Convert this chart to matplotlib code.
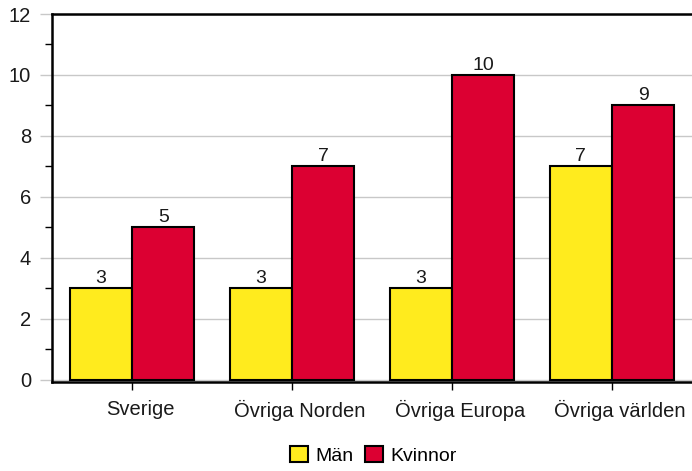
import matplotlib

matplotlib.use("Agg")
import matplotlib.pyplot as plt
import matplotlib.transforms as mtransforms
import numpy as np
from matplotlib.patches import Patch

categories = ["Sverige", "Övriga Norden", "Övriga Europa", "Övriga världen"]
man = [3, 3, 3, 7]
kvinnor = [5, 7, 10, 9]
series_names = ["Män", "Kvinnor"]

YELLOW = "#FFEB1E"
RED = "#DC0032"

plt.rcParams["font.family"] = ["Liberation Sans", "DejaVu Sans"]

fig = plt.figure(figsize=(6.92, 4.71), dpi=100)
ax = fig.add_axes([52 / 692, 89 / 471, 1 - 52 / 692, 368 / 471])

x = np.arange(len(categories))
w = 0.39
b1 = ax.bar(x - w / 2, man, w, color=YELLOW, edgecolor="black", linewidth=1.5, zorder=3)
b2 = ax.bar(x + w / 2, kvinnor, w, color=RED, edgecolor="black", linewidth=1.5, zorder=3)

for bars, vals in [(b1, man), (b2, kvinnor)]:
    for rect, v in zip(bars, vals):
        ax.text(rect.get_x() + rect.get_width() / 2, v + 0.03, str(v),
                ha="center", va="bottom", fontsize=14, color="#1a1a1a")

ax.set_xlim(-0.5, 3.5)
ax.set_ylim(-0.08, 12)
ax.set_yticks(range(0, 13, 2))
ax.set_yticks(range(1, 12, 2), minor=True)
ax.set_xticks(x)
ax.set_xticklabels(categories, fontsize=14.5)
ax.tick_params(axis="y", which="major", length=9, color="#c8c8c8", width=1,
               labelsize=14.5, pad=6, labelcolor="#1a1a1a")
ax.tick_params(axis="y", which="minor", length=5, color="black", width=1)
ax.tick_params(axis="x", length=6, color="black", width=1, pad=7, labelcolor="#1a1a1a")

# category labels sit a little right of their ticks in the original
shift = mtransforms.ScaledTranslation(8 / 100, 0, fig.dpi_scale_trans)
for lbl in ax.get_xticklabels():
    lbl.set_transform(lbl.get_transform() + shift)

ax.grid(axis="y", color="#c8c8c8", linewidth=1, zorder=0)
ax.set_axisbelow(True)
ax.spines["right"].set_visible(False)
for s in ["top", "left", "bottom"]:
    ax.spines[s].set_linewidth(1.8)
    ax.spines[s].set_color("black")

handles = [Patch(facecolor=YELLOW, edgecolor="black", linewidth=1.5),
           Patch(facecolor=RED, edgecolor="black", linewidth=1.5)]
fig.legend(handles, series_names, loc="center", bbox_to_anchor=(0.54, 0.033),
           ncol=2, frameon=False, fontsize=14, handlelength=0.9, handleheight=0.9,
           handletextpad=0.4, columnspacing=0.6)

fig.savefig("out.png", dpi=100)
